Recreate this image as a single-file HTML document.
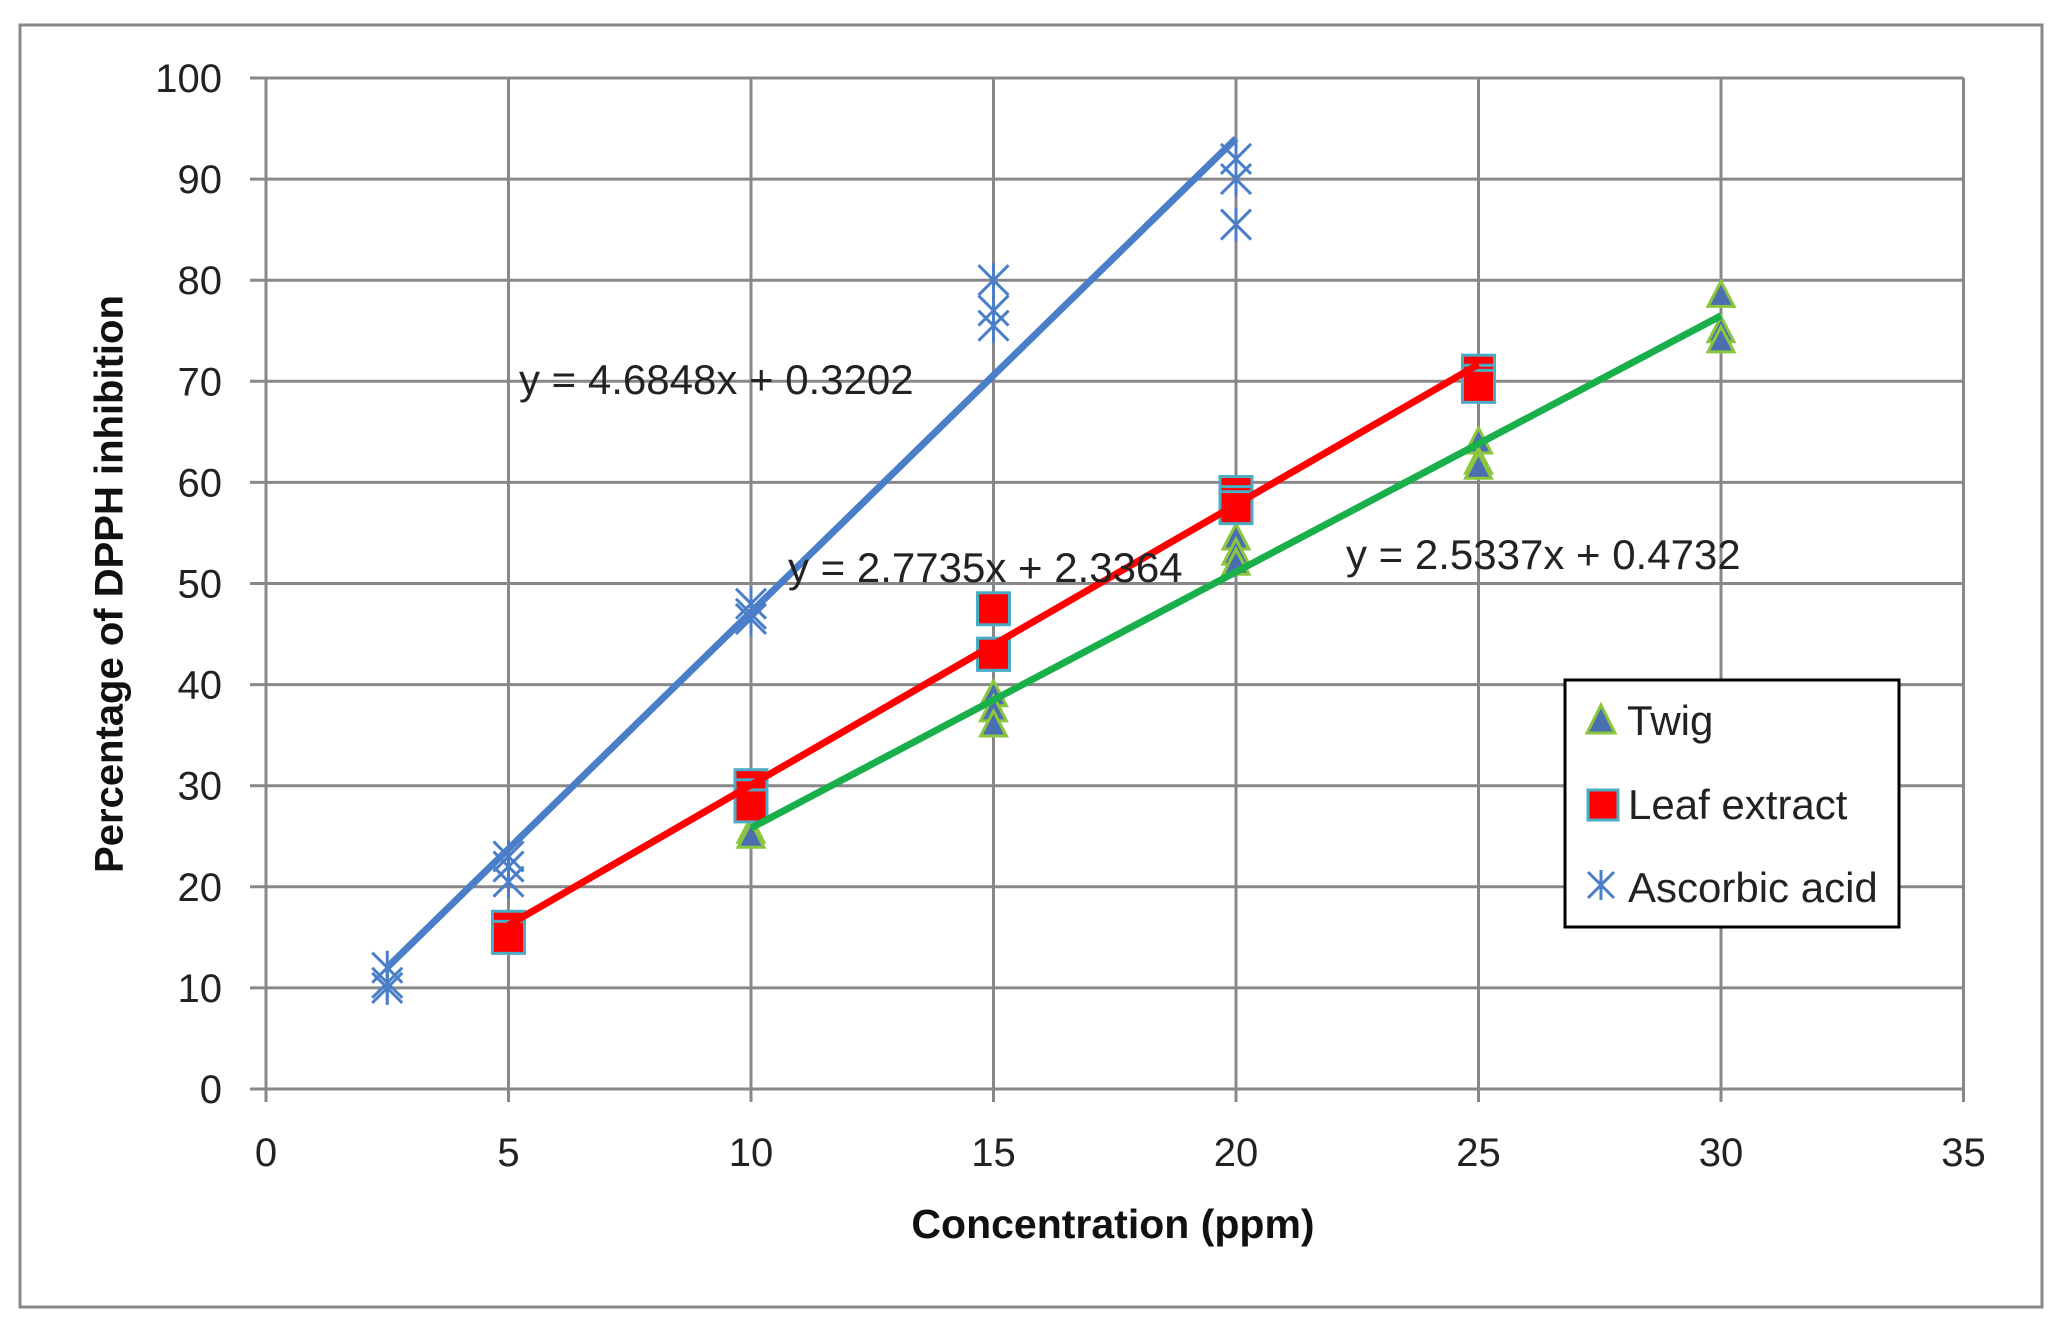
<!DOCTYPE html>
<html><head><meta charset="utf-8"><style>
html,body{margin:0;padding:0;background:#fff;}
svg{display:block;font-family:"Liberation Sans",sans-serif;}
</style></head><body>
<svg id="chart" width="2059" height="1327" viewBox="0 0 2059 1327">
<rect x="20" y="25" width="2022" height="1282" fill="#fff" stroke="#888" stroke-width="3"/>
<g id="grid"></g>
<g id="ticks"></g>
<g id="marks"></g>
<g id="lines"></g>
<text x="519" y="394" font-size="42" fill="#222">y = 4.6848x + 0.3202</text>
<text x="788" y="582" font-size="42" fill="#222">y = 2.7735x + 2.3364</text>
<text x="1346" y="569" font-size="42" fill="#222">y = 2.5337x + 0.4732</text>
<text x="112" y="584" font-size="40" font-weight="bold" fill="#111" text-anchor="middle" dominant-baseline="middle" transform="rotate(-90 112 584)">Percentage of DPPH inhibition</text>
<text x="1113" y="1238" font-size="41" font-weight="bold" fill="#111" text-anchor="middle">Concentration (ppm)</text>
<g>
<rect x="1565" y="680" width="334" height="247" fill="#fff" stroke="#000" stroke-width="3"/>
<polygon points="1587,733 1601,705 1615,733" fill="#4a6fb0" stroke="#8cc63f" stroke-width="3"/>
<text x="1627" y="735" font-size="42" fill="#222">Twig</text>
<rect x="1588" y="790" width="30" height="30" fill="#f00" stroke="#4bacc6" stroke-width="3"/>
<text x="1628" y="819" font-size="42" fill="#222">Leaf extract</text>
<g stroke="#4a7ec8" stroke-width="3"><line x1="1588" y1="872" x2="1614" y2="898"/><line x1="1614" y1="872" x2="1588" y2="898"/><line x1="1601" y1="870" x2="1601" y2="900"/></g>
<text x="1628" y="902" font-size="42" fill="#222">Ascorbic acid</text>
</g>
</svg>
<script>
const xTicks=[0,5,10,15,20,25,30,35];
const yTicks=[0,10,20,30,40,50,60,70,80,90,100];
const ascX=[2.5,2.5,2.5,5,5,5,10,10,10,15,15,15,20,20,20];
const ascY=[12,10.5,10,23,22,20.5,48,47,46.5,80,77,75.5,92,90,85.5];
const leafX=[5,5,10,10,10,15,15,15,20,20,20,25,25,25];
const leafY=[16,15,30,29,28,47.5,43,43,59,58,57.5,71,70,69.5];
const twigX=[10,10,15,15,15,20,20,20,25,25,25,30,30,30];
const twigY=[25.5,25,39,37.5,36,54.5,53,52,64,62,61.5,78.5,75,74];
const slopes=[4.6848,2.7735,2.5337];
const intercepts=[0.3202,2.3364,0.4732];
const ranges=[[2.5,20],[5,25],[10,30]];
const NS="http://www.w3.org/2000/svg";
const X=v=>266+v*48.5;
const Y=v=>1089-v*10.11;
function mk(tag,attrs,parent){const e=document.createElementNS(NS,tag);for(const k in attrs)e.setAttribute(k,attrs[k]);parent.appendChild(e);return e;}
const grid=document.getElementById('grid'),ticks=document.getElementById('ticks'),lines=document.getElementById('lines'),marks=document.getElementById('marks');
yTicks.forEach(t=>{
 const l=mk('line',{x1:250,x2:X(35),y1:Y(t),y2:Y(t),stroke:'#888','stroke-width':3},grid);
 
 
 const tx=mk('text',{x:222,y:Y(t)+14,'font-size':40,'text-anchor':'end',fill:'#222'},ticks);
 tx.textContent=t;
 
 
});
xTicks.forEach(t=>{
 const l=mk('line',{x1:X(t),x2:X(t),y1:Y(100),y2:Y(0)+13,stroke:'#888','stroke-width':3},grid);
 
 
 const tx=mk('text',{x:X(t),y:1166,'font-size':40,'text-anchor':'middle',fill:'#222'},ticks);
 tx.textContent=t;
 
 
});
const colors=['#4a7ec8','#f00','#19b04b'];
const lnames=['ascorbic-trendline','leaf-trendline','twig-trendline'];
twigX.forEach((x,i)=>{const cx=X(x),cy=Y(twigY[i]);
 const p=mk('polygon',{points:`${cx-13},${cy+11} ${cx},${cy-14} ${cx+13},${cy+11}`,fill:'#4a6fb0',stroke:'#8cc63f','stroke-width':3},marks);
 
 });
leafX.forEach((x,i)=>{const cx=X(x),cy=Y(leafY[i]);
 const r=mk('rect',{x:cx-16,y:cy-16,width:32,height:32,fill:'#f00',stroke:'#4bacc6','stroke-width':3},marks);
 
 });
ascX.forEach((x,i)=>{const cx=X(x),cy=Y(ascY[i]);
 const g=mk('g',{stroke:'#4a7ec8','stroke-width':3},marks);
 
 
 mk('line',{x1:cx-15,y1:cy-15,x2:cx+15,y2:cy+15},g);mk('line',{x1:cx+15,y1:cy-15,x2:cx-15,y2:cy+15},g);mk('line',{x1:cx,y1:cy-17,x2:cx,y2:cy+17},g);});
slopes.forEach((m,i)=>{const [a,b]=ranges[i];
 const l=mk('line',{x1:X(a),y1:Y(m*a+intercepts[i]),x2:X(b),y2:Y(m*b+intercepts[i]),stroke:colors[i],'stroke-width':7},lines);
 
 });
</script>
</body></html>
